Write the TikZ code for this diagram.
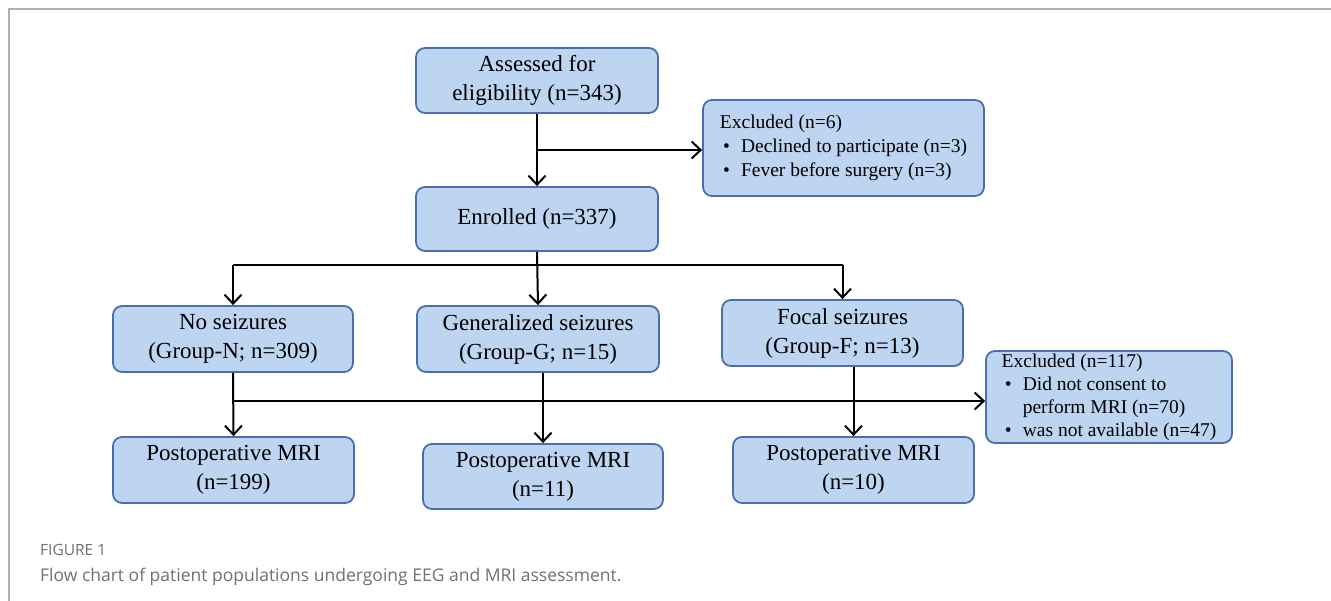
\documentclass[tikz,border=0pt]{standalone}
\usepackage{fontspec}
\setmainfont{Liberation Serif}
\newfontfamily\capfont{Open Sans}
\usetikzlibrary{arrows.meta}
\definecolor{boxfill}{HTML}{BDD5F0}
\definecolor{boxline}{HTML}{4A6FAE}
\definecolor{capgray}{HTML}{707070}

\tikzset{
  box/.style={draw=boxline, fill=boxfill, line width=1.8pt, rounded corners=9pt,
    align=center, inner sep=0pt, font=\fontsize{23}{29}\selectfont},
  exbox/.style={box, font=\fontsize{19.5}{24}\selectfont},
  conn/.style={line width=2pt, black},
  arr/.style={conn, -{Straight Barb[length=9pt, width=17pt]}},
}

\begin{document}
\begin{tikzpicture}[x=1pt, y=-1pt]
    \useasboundingbox (0,0) rectangle (1331,601);
    \draw[capgray!55, line width=1.5pt] (1331,9) -- (9,9) -- (9,601);

    % boxes
    \node[box, minimum width=242pt, minimum height=65pt] (assess) at (537,80.5) {Assessed for\\eligibility (n=343)};
    \node[exbox, minimum width=281pt, minimum height=96pt] (excl1) at (843.5,148)
      {\begin{tabular}{@{}l@{\hspace{11pt}}l@{}}
        \multicolumn{2}{@{}l@{}}{Excluded (n=6)}\\
        \,\textbullet & Declined to participate (n=3)\\
        \,\textbullet & Fever before surgery (n=3)
      \end{tabular}};
    \node[box, minimum width=242pt, minimum height=64pt] (enrol) at (537,219) {Enrolled (n=337)};
    \node[box, minimum width=240pt, minimum height=66pt] (nos) at (233,339) {No seizures\\(Group-N; n=309)};
    \node[box, minimum width=242pt, minimum height=66pt] (gen) at (538,339) {Generalized seizures\\(Group-G; n=15)};
    \node[box, minimum width=241pt, minimum height=66pt] (focal) at (842.5,333) {Focal seizures\\(Group-F; n=13)};
    \node[exbox, minimum width=246pt, minimum height=90pt, font=\fontsize{19.5}{23}\selectfont] (excl2) at (1109,397)
      {\begin{tabular}{@{}l@{\hspace{11pt}}l@{}}
        \multicolumn{2}{@{}l@{}}{Excluded (n=117)}\\
        \,\textbullet & Did not consent to\\
         & perform MRI (n=70)\\
        \,\textbullet & was not available (n=47)
      \end{tabular}};
    \node[box, minimum width=241pt, minimum height=66pt] (mri1) at (233.5,470) {Postoperative MRI\\(n=199)};
    \node[box, minimum width=240pt, minimum height=65pt] (mri2) at (543,476.5) {Postoperative MRI\\(n=11)};
    \node[box, minimum width=241pt, minimum height=66pt] (mri3) at (853.5,470) {Postoperative MRI\\(n=10)};

    % connectors
    \coordinate (b1) at (537,150);
    \coordinate (h1) at (537,265);
    \coordinate (h2) at (233,401);
    \draw[arr] (assess.south) -- (enrol.north);
    \draw[arr] (b1) -- (b1 -| excl1.west);
    \draw[conn] (h1 -| nos.north) -- (h1 -| focal.north);
    \draw[arr] (enrol.south) -- (gen.north);
    \draw[arr] (h1 -| nos.north) -- (nos.north);
    \draw[arr] (h1 -| focal.north) -- (focal.north);
    \draw[arr] (nos.south) -- (mri1.north);
    \draw[arr] (gen.south -| mri2.north) -- (mri2.north);
    \draw[arr] (focal.south -| mri3.north) -- (mri3.north);
    \draw[arr] (h2) -- (h2 -| excl2.west);

    % caption
    \node[anchor=base west, inner sep=0pt, text=capgray, font=\capfont\fontsize{15.5}{18}\selectfont] (fignum) at (40,555) {FIGURE 1};
    \node[anchor=base west, inner sep=0pt, text=capgray, font=\capfont\fontsize{17.5}{20}\selectfont] (figcap) at (40,581) {Flow chart of patient populations undergoing EEG and MRI assessment.};
\end{tikzpicture}
\end{document}
